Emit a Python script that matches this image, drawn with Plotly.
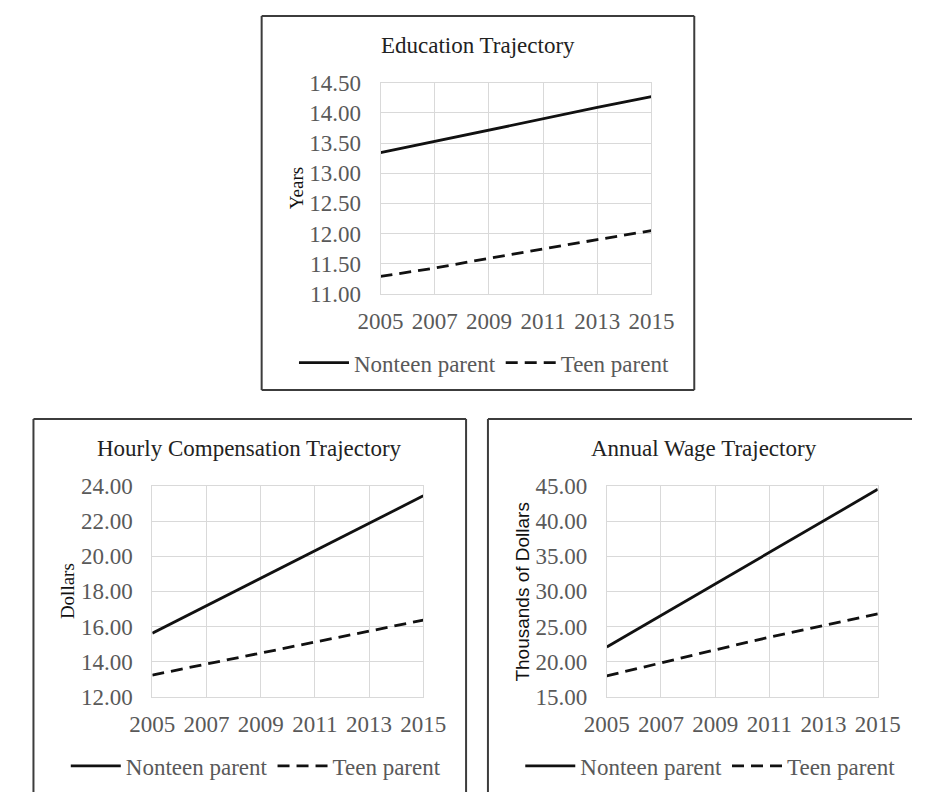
import plotly.graph_objects as go

years = [2005, 2007, 2009, 2011, 2013, 2015]
year_ticks = [2005, 2007, 2009, 2011, 2013, 2015]

edu_nonteen = [13.34, 13.53, 13.71, 13.91, 14.09, 14.27]
edu_teen = [11.29, 11.43, 11.59, 11.75, 11.90, 12.05]
hourly_nonteen = [15.63, 17.20, 18.75, 20.30, 21.87, 23.43]
hourly_teen = [13.25, 13.87, 14.50, 15.12, 15.75, 16.37]
annual_nonteen = [22.1, 26.6, 31.1, 35.6, 40.0, 44.5]
annual_teen = [18.0, 19.9, 21.7, 23.5, 25.2, 26.8]

series_names = ["Nonteen parent", "Teen parent"]
titles = ["Education Trajectory", "Hourly Compensation Trajectory", "Annual Wage Trajectory"]
ytitles = ["Years", "Dollars", "Thousands of Dollars"]

W, H = 935, 805
SERIF = "Liberation Serif, Times New Roman, serif"
SANS = "Liberation Sans, Arial, sans-serif"
GRAY = "#595959"
GRID = "#d9d9d9"
FRAME = "#3c3c3c"

def px(x):
    return x / W

def py(y):
    return 1 - y / H

fig = go.Figure()

panels = [
    dict(xa="x", ya="y", leg="legend", data=(edu_nonteen, edu_teen)),
    dict(xa="x2", ya="y2", leg="legend2", data=(hourly_nonteen, hourly_teen)),
    dict(xa="x3", ya="y3", leg="legend3", data=(annual_nonteen, annual_teen)),
]

for p in panels:
    nt, tp = p["data"]
    fig.add_trace(go.Scatter(x=years, y=nt, mode="lines", name=series_names[0],
                             line=dict(color="#111111", width=2.8),
                             xaxis=p["xa"], yaxis=p["ya"], legend=p["leg"]))
    fig.add_trace(go.Scatter(x=years, y=tp, mode="lines", name=series_names[1],
                             line=dict(color="#111111", width=2.8, dash="12px,7px"),
                             xaxis=p["xa"], yaxis=p["ya"], legend=p["leg"]))

# frame geometry (pixels): left, top of each frame; plot area offsets inside
frames = [(251, 4), (11, 420), (489, 420)]
FW, FH = 455, 386
PL, PR, PT, PB = 125, 410, 69, 287

axis_common = dict(showgrid=True, gridcolor=GRID, gridwidth=1, showline=True,
                   linecolor=GRID, linewidth=1, mirror=True, zeroline=False,
                   ticks="", tickfont=dict(family=SERIF, size=23, color=GRAY))

yranges = [(11, 14.5, 0.5), (12, 24, 2), (15, 45, 5)]

layout = dict(width=W, height=H, margin=dict(l=0, r=0, t=0, b=0),
              paper_bgcolor="white", plot_bgcolor="white", showlegend=True)

shapes = []
annotations = []

def seg(x0, y0, x1, y1):
    return dict(type="line", xref="paper", yref="paper",
                x0=px(x0), y0=py(y0), x1=px(x1), y1=py(y1),
                line=dict(color=FRAME, width=2))

for i, (fx, fy) in enumerate(frames):
    sfx = "" if i == 0 else str(i + 1)
    layout["xaxis" + sfx] = dict(axis_common, domain=[px(fx + PL), px(fx + PR)],
                                 range=[2005, 2015], tickvals=year_ticks,
                                 ticktext=[str(t) for t in year_ticks],
                                 anchor="y" + sfx, ticklabelstandoff=6)
    y0, y1, dt = yranges[i]
    layout["yaxis" + sfx] = dict(axis_common, domain=[py(fy + PB), py(fy + PT)],
                                 range=[y0, y1], dtick=dt, tick0=y0,
                                 tickformat=".2f", anchor="x" + sfx,
                                 ticklabelstandoff=14)
    # frame edges, kept inside the page
    bottom = min(fy + FH, H)
    right = min(fx + FW, W)
    shapes.append(seg(fx, fy, right, fy))
    shapes.append(seg(fx, fy, fx, bottom))
    if fx + FW <= W:
        shapes.append(seg(fx + FW, fy, fx + FW, bottom))
    if fy + FH <= H:
        shapes.append(seg(fx, fy + FH, fx + FW, fy + FH))
    annotations.append(dict(text=titles[i], xref="paper", yref="paper",
                            x=px(fx + FW / 2), y=py(fy + 31), xanchor="center", yanchor="middle",
                            showarrow=False, font=dict(family=SERIF, size=23, color="#222222")))
    yt_font = dict(family=SANS if i == 2 else SERIF, size=19, color="#111111")
    annotations.append(dict(text=ytitles[i], xref="paper", yref="paper",
                            x=px(fx + PL - 89), y=py(fy + (PT + PB) / 2), textangle=-90,
                            xanchor="center", yanchor="middle", showarrow=False, font=yt_font))
    layout["legend" + sfx] = dict(orientation="h", x=px(fx + 34), y=py(fy + 358),
                                  xanchor="left", yanchor="middle", itemwidth=50,
                                  bgcolor="rgba(0,0,0,0)", borderwidth=0,
                                  font=dict(family=SERIF, size=23, color=GRAY),
                                  traceorder="normal")

layout["shapes"] = shapes
layout["annotations"] = annotations
fig.update_layout(**layout)

fig.write_html("out.html", config={"displayModeBar": False},
               post_script="document.body.style.margin='0';document.body.style.overflow='hidden';")
